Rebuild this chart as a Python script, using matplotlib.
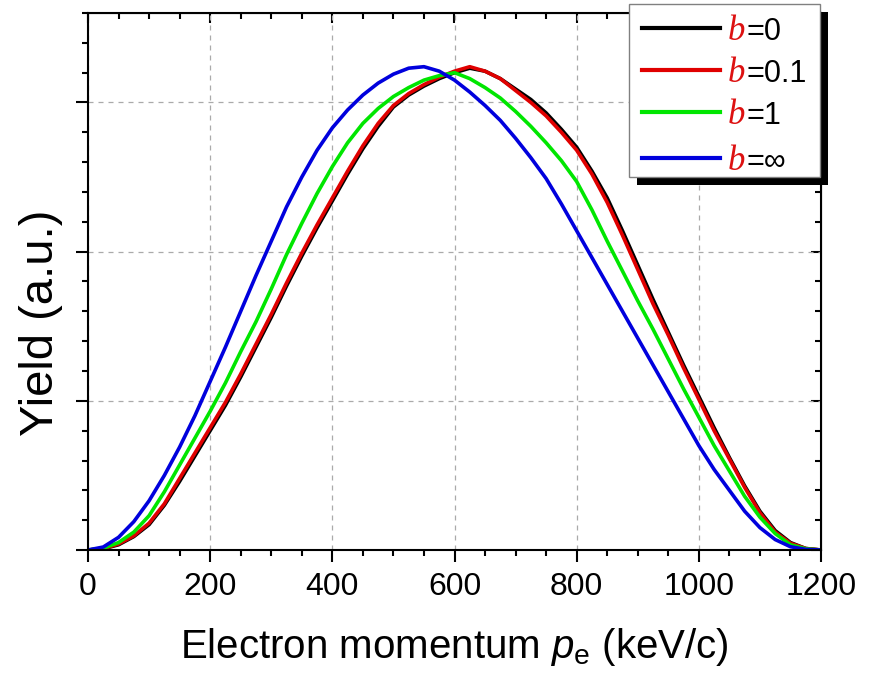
import numpy as np
import matplotlib
matplotlib.use('Agg')
import matplotlib.pyplot as plt
from matplotlib.ticker import MultipleLocator
from matplotlib.patches import Rectangle
from matplotlib.lines import Line2D

# electron momentum grid (keV/c) and yields
p_e = list(range(0, 1201, 25))

yield_b0 = [0, 0.008, 0.035, 0.09, 0.17, 0.30, 0.46, 0.63, 0.80, 0.97,
            1.16, 1.36, 1.56, 1.77, 1.97, 2.16, 2.34, 2.52, 2.69, 2.84,
            2.97, 3.05, 3.11, 3.16, 3.20, 3.23, 3.21, 3.16, 3.09, 3.02,
            2.93, 2.82, 2.70, 2.54, 2.36, 2.14, 1.91, 1.68, 1.46, 1.24,
            1.03, 0.82, 0.62, 0.43, 0.26, 0.13, 0.05, 0.01, 0]
yield_b01 = [0, 0.009, 0.04, 0.095, 0.18, 0.31, 0.48, 0.65, 0.82, 0.99,
             1.18, 1.38, 1.58, 1.79, 1.99, 2.18, 2.36, 2.54, 2.71, 2.86,
             2.98, 3.06, 3.12, 3.17, 3.21, 3.24, 3.21, 3.16, 3.08, 3.00,
             2.91, 2.80, 2.68, 2.52, 2.33, 2.11, 1.88, 1.65, 1.44, 1.22,
             1.01, 0.80, 0.61, 0.42, 0.25, 0.12, 0.045, 0.01, 0]
yield_b1 = [0, 0.012, 0.05, 0.12, 0.23, 0.39, 0.57, 0.75, 0.93, 1.12,
            1.33, 1.53, 1.75, 1.98, 2.19, 2.39, 2.57, 2.73, 2.86, 2.96,
            3.04, 3.10, 3.15, 3.18, 3.20, 3.16, 3.10, 3.03, 2.94, 2.84,
            2.73, 2.61, 2.47, 2.28, 2.07, 1.87, 1.67, 1.48, 1.28, 1.08,
            0.89, 0.70, 0.53, 0.36, 0.22, 0.11, 0.035, 0.008, 0]
yield_binf = [0, 0.02, 0.085, 0.19, 0.33, 0.50, 0.69, 0.90, 1.13, 1.36,
              1.60, 1.84, 2.07, 2.30, 2.50, 2.68, 2.83, 2.95, 3.05, 3.13,
              3.19, 3.23, 3.24, 3.21, 3.15, 3.07, 2.98, 2.88, 2.76, 2.63,
              2.49, 2.32, 2.14, 1.96, 1.78, 1.60, 1.42, 1.24, 1.06, 0.88,
              0.70, 0.54, 0.40, 0.26, 0.15, 0.07, 0.022, 0.004, 0]

series = [yield_b0, yield_b01, yield_b1, yield_binf]
labels = ['=0', '=0.1', '=1', '=\u221e']
colors = ['#000000', '#e00000', '#00e600', '#0000dd']

plt.rcParams['font.family'] = ['Liberation Sans', 'DejaVu Sans']
plt.rcParams['mathtext.fontset'] = 'custom'
plt.rcParams['mathtext.rm'] = 'Liberation Sans'
plt.rcParams['mathtext.it'] = 'Liberation Sans:italic'

W, H = 876, 674
fig = plt.figure(figsize=(W/100, H/100), dpi=100)
ax = fig.add_axes([88/W, 1-550/H, (821-88)/W, (550-13)/H])

for y, c in zip(series, colors):
    ax.plot(p_e, y, color=c, lw=2.6, solid_joinstyle='round')

ax.set_xlim(0, 1200)
ax.set_ylim(0, 3.6)
ax.xaxis.set_major_locator(MultipleLocator(200))
ax.xaxis.set_minor_locator(MultipleLocator(50))
ax.yaxis.set_major_locator(MultipleLocator(1))
ax.yaxis.set_minor_locator(MultipleLocator(0.2))
ax.set_yticklabels([])
ax.tick_params(which='major', direction='out', length=8.5, width=1.5, labelsize=23, pad=7)
ax.tick_params(which='minor', direction='out', length=4.5, width=1.5)
for s in ax.spines.values():
    s.set_linewidth(1.5)
ax.grid(True, which='major', ls=(0, (4, 4)), color='#aaaaaa', lw=0.9)

# mirrored ticks pointing inward on top and right
secx = ax.secondary_xaxis('top')
secx.xaxis.set_major_locator(MultipleLocator(200))
secx.xaxis.set_minor_locator(MultipleLocator(50))
secx.tick_params(which='major', direction='in', length=7, width=1.5, labeltop=False)
secx.tick_params(which='minor', direction='in', length=4, width=1.5)
secy = ax.secondary_yaxis('right')
secy.yaxis.set_major_locator(MultipleLocator(1))
secy.yaxis.set_minor_locator(MultipleLocator(0.2))
secy.tick_params(which='major', direction='in', length=7, width=1.5, labelright=False)
secy.tick_params(which='minor', direction='in', length=4, width=1.5)

ax.set_xlabel(r'Electron momentum $\mathit{p}_\mathrm{e}$ (keV/c)', fontsize=29)
ax.xaxis.set_label_coords(0.5, -0.142)
ax.set_ylabel('Yield (a.u.)', fontsize=34)
ax.yaxis.set_label_coords(-0.034, 0.423)

# Origin-style legend box with a solid black shadow (pixel layout)
def fx(px):
    return px / W

def fy(py):
    return 1 - py / H

fig.add_artist(Rectangle((fx(637), fy(185)), fx(828) - fx(637), fy(12) - fy(185),
                         transform=fig.transFigure, facecolor='black',
                         edgecolor='none', zorder=5))
fig.add_artist(Rectangle((fx(629), fy(177)), fx(820) - fx(629), fy(4) - fy(177),
                         transform=fig.transFigure, facecolor='white',
                         edgecolor='#808080', lw=1.0, zorder=6))
rows = [28, 70, 112, 158]
for row, c, lab in zip(rows, colors, labels):
    fig.add_artist(Line2D([fx(642), fx(720)], [fy(row), fy(row)],
                          transform=fig.transFigure, color=c, lw=3, zorder=7))
    fig.text(fx(728), fy(row + 12), 'b', ha='left', va='baseline', color='#dd1111',
             fontsize=25, family='Liberation Serif', style='italic', zorder=8)
    fig.text(fx(746), fy(row + 12), lab, ha='left', va='baseline', color='black',
             fontsize=22, zorder=8)

fig.savefig('out.png', dpi=100)
